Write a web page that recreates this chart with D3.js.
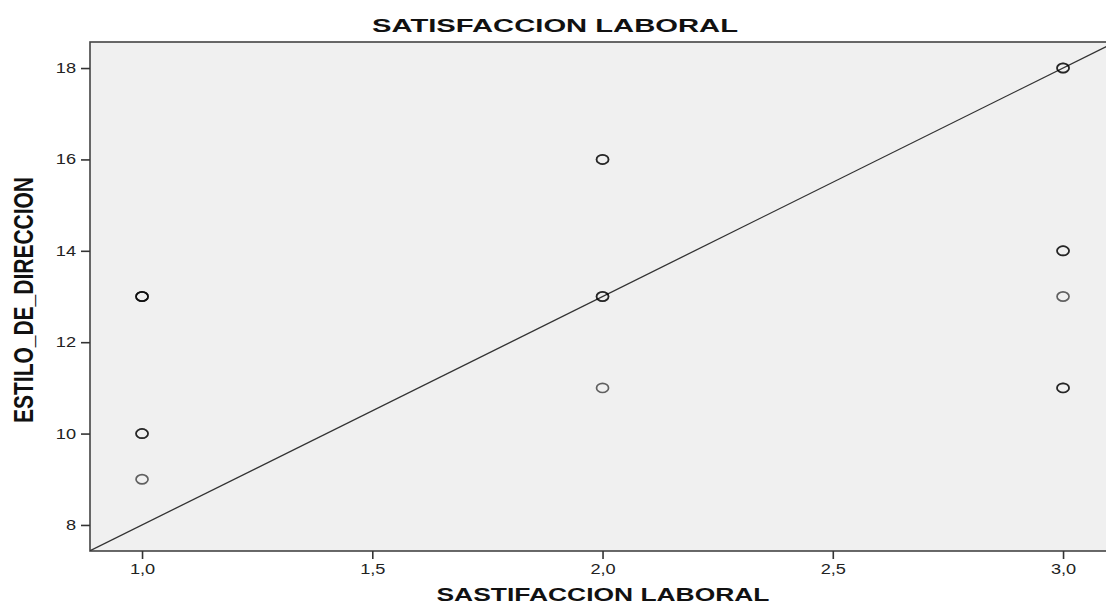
<!DOCTYPE html>
<html>
<head>
<meta charset="utf-8">
<script src="https://cdn.jsdelivr.net/npm/d3@7"></script>
<style>
  body { margin: 0; background: #fff; }
  text { font-family: "Liberation Sans", Arial, sans-serif; }
</style>
</head>
<body>
<div id="chart"></div>
<script>
// Scatter: ESTILO_DE_DIRECCION vs SATISFACCION LABORAL

// Observations (repeated rows overlap and draw darker)
var satisfaccion = [1, 1, 1, 1, 1, 1, 2, 2, 2, 2, 2, 3, 3, 3, 3, 3, 3, 3]
var estilo       = [13, 13, 13, 10, 10, 9, 16, 16, 13, 13, 11, 18, 18, 14, 14, 13, 11, 11]

// Fit line y = a + b*x
var fitIntercept = 3
var fitSlope = 5

var xTicks = [1.0, 1.5, 2.0, 2.5, 3.0]
var yTicks = [8, 10, 12, 14, 16, 18]

var width = 1106
var height = 612
var plot = { left: 90, top: 42, right: 1116, bottom: 551 }

// the source picture is stretched sideways, text follows it
var stretch = 1.3

var xScale = d3.scaleLinear()
  .domain([0.887, 3.115])
  .range([plot.left, plot.right])

var yScale = d3.scaleLinear()
  .domain([7.43, 18.57])
  .range([plot.bottom, plot.top])

var svg = d3.select('#chart')
  .append('svg')
  .attr('width', width)
  .attr('height', height)

// plot background
svg.append('rect')
  .attr('x', plot.left)
  .attr('y', plot.top)
  .attr('width', plot.right - plot.left)
  .attr('height', plot.bottom - plot.top)
  .attr('fill', '#f0f0f0')
  .attr('stroke', '#444')
  .attr('stroke-width', 1.6)

svg.append('clipPath').attr('id', 'clip')
  .append('rect')
  .attr('x', plot.left)
  .attr('y', plot.top)
  .attr('width', plot.right - plot.left)
  .attr('height', plot.bottom - plot.top)

// axes
var xAxis = svg.append('g')
  .attr('transform', 'translate(0,' + plot.bottom + ')')
  .call(d3.axisBottom(xScale).tickValues(xTicks).tickSize(8).tickPadding(5)
    .tickFormat(d => d3.format('.1f')(d).replace('.', ',')))
xAxis.select('.domain').remove()
xAxis.selectAll('.tick text')
  .attr('transform', 'scale(' + stretch + ',1)')

var yAxis = svg.append('g')
  .attr('transform', 'translate(' + plot.left + ',0)')
  .call(d3.axisLeft(yScale).tickValues(yTicks).tickSize(9))
yAxis.select('.domain').remove()
yAxis.selectAll('.tick text')
  .attr('x', 0)
  .attr('transform', 'translate(-14,0) scale(' + stretch + ',1)')

svg.selectAll('.tick line').attr('stroke', '#333').attr('stroke-width', 1.6)
svg.selectAll('.tick text')
  .attr('font-size', 14)
  .attr('fill', '#222')
  .style('font-family', '"Liberation Sans", Arial, sans-serif')

// fit line
var xd = xScale.domain()
svg.append('line')
  .attr('clip-path', 'url(#clip)')
  .attr('x1', xScale(xd[0]))
  .attr('y1', yScale(fitIntercept + fitSlope * xd[0]))
  .attr('x2', xScale(xd[1]))
  .attr('y2', yScale(fitIntercept + fitSlope * xd[1]))
  .attr('stroke', '#333')
  .attr('stroke-width', 1.3)

// points
svg.selectAll('ellipse')
  .data(satisfaccion.map((s, i) => ({ x: s, y: estilo[i] })))
  .enter()
  .append('ellipse')
  .attr('cx', d => xScale(d.x))
  .attr('cy', d => yScale(d.y))
  .attr('rx', 6)
  .attr('ry', 4.6)
  .attr('fill', 'none')
  .attr('stroke', '#000')
  .attr('stroke-opacity', 0.6)
  .attr('stroke-width', 1.7)

// titles
svg.append('text')
  .text('SATISFACCION LABORAL')
  .attr('x', 555)
  .attr('y', 32)
  .attr('text-anchor', 'middle')
  .attr('font-size', 19)
  .attr('font-weight', 'bold')
  .attr('fill', '#111')
  .attr('textLength', 366)
  .attr('lengthAdjust', 'spacingAndGlyphs')

svg.append('text')
  .text('SASTIFACCION LABORAL')
  .attr('x', 603)
  .attr('y', 601)
  .attr('text-anchor', 'middle')
  .attr('font-size', 18)
  .attr('font-weight', 'bold')
  .attr('fill', '#111')
  .attr('textLength', 333)
  .attr('lengthAdjust', 'spacingAndGlyphs')

svg.append('text')
  .text('ESTILO_DE_DIRECCION')
  .attr('transform', 'translate(33,300) scale(1.37,1) rotate(-90)')
  .attr('text-anchor', 'middle')
  .attr('font-size', 20)
  .attr('font-weight', 'bold')
  .attr('fill', '#111')
  .attr('textLength', 246)
  .attr('lengthAdjust', 'spacingAndGlyphs')
</script>
</body>
</html>
